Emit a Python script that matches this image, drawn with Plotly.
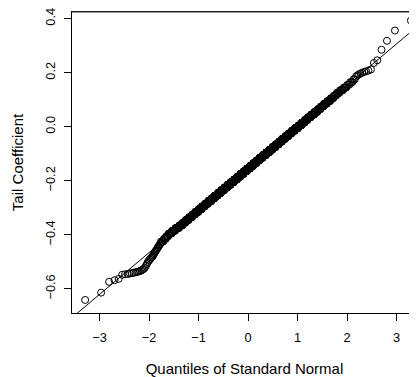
import numpy as np
import plotly.graph_objects as go
from statistics import NormalDist

# ---- data (sorted sample of 1000 tail coefficients) ----
# lowest ranks, read individually
lower_tail = [-0.641, -0.614, -0.574, -0.568, -0.563, -0.548, -0.546, -0.545, -0.543,
              -0.542, -0.540, -0.539, -0.537, -0.536, -0.534, -0.532, -0.529, -0.526,
              -0.522, -0.515, -0.508, -0.501, -0.496, -0.492, -0.488, -0.484, -0.481,
              -0.477, -0.472, -0.467, -0.462, -0.458, -0.454, -0.450, -0.446, -0.442,
              -0.439, -0.435, -0.432]
# dense body: value levels (0.01 wide bins, centre values) and how many points sit at each
body_levels = [-0.425, -0.415, -0.405, -0.395, -0.385, -0.375, -0.365, -0.355, -0.345,
               -0.335, -0.325, -0.315, -0.305, -0.295, -0.285, -0.275, -0.265, -0.255,
               -0.245, -0.235, -0.225, -0.215, -0.205, -0.195, -0.185, -0.175, -0.165,
               -0.155, -0.145, -0.135, -0.125, -0.115, -0.105, -0.095, -0.085, -0.075,
               -0.065, -0.055, -0.045, -0.035, -0.025, -0.015, -0.005, 0.005, 0.015,
               0.025, 0.035, 0.045, 0.055, 0.065, 0.075, 0.085, 0.095, 0.105, 0.115,
               0.125, 0.135, 0.145, 0.155, 0.165, 0.175]
body_counts = [5, 5, 5, 8, 9, 11, 11, 11, 12, 13, 14, 16, 16, 17, 18, 20, 20, 21, 22, 22,
               24, 24, 25, 25, 25, 26, 26, 26, 25, 26, 25, 25, 25, 24, 23, 23, 22, 20, 20,
               19, 18, 17, 17, 15, 14, 12, 12, 12, 10, 9, 8, 8, 7, 6, 5, 5, 5, 4, 3, 3, 2]
# highest ranks, read individually
upper_tail = [0.186, 0.190, 0.194, 0.197, 0.200, 0.203, 0.205, 0.208, 0.212, 0.236,
              0.246, 0.285, 0.318, 0.356, 0.393]

# reference line
line_intercept = -0.157
line_slope = 0.1545

x_ticks = [-3, -2, -1, 0, 1, 2, 3]
x_tick_labels = ["\u22123", "\u22122", "\u22121", "0", "1", "2", "3"]
y_ticks = [-0.6, -0.4, -0.2, 0.0, 0.2, 0.4]
y_tick_labels = ["\u22120.6", "\u22120.4", "\u22120.2", "0.0", "0.2", "0.4"]

# ---- build sample and theoretical quantiles (like qqnorm) ----
sample = np.sort(np.concatenate([lower_tail,
                                 np.repeat(body_levels, body_counts),
                                 upper_tail]))
n = len(sample)
nd = NormalDist()
theo = np.array([nd.inv_cdf((i - 0.5) / n) for i in range(1, n + 1)])

x_range = [-3.556, 3.414]
y_range = [-0.6893, 0.4246]
lx = np.array([-5.0, 5.0])
ly = line_intercept + line_slope * lx

fig = go.Figure()
fig.add_trace(go.Scatter(x=theo, y=sample, mode="markers",
                         marker=dict(symbol="circle-open", size=7, color="black",
                                     line=dict(width=1, color="black")),
                         hoverinfo="skip"))
fig.add_trace(go.Scatter(x=lx, y=ly, mode="lines",
                         line=dict(color="black", width=1), hoverinfo="skip"))
# top edge of the plot box
fig.add_shape(type="line", xref="paper", yref="paper", x0=0, x1=1, y0=1, y1=1,
              line=dict(color="#333333", width=1), layer="above")

font = dict(family="Liberation Sans", size=12.8, color="black")
fig.update_layout(
    width=409, height=369,
    margin=dict(l=64, r=0, t=2, b=64),
    paper_bgcolor="white", plot_bgcolor="white",
    showlegend=False, font=font,
    xaxis=dict(range=x_range, tickvals=x_ticks, ticktext=x_tick_labels,
               showgrid=False, zeroline=False, showline=True, linecolor="black",
               linewidth=1, mirror=True, ticks="outside", ticklen=7, tickcolor="black",
               tickwidth=1, ticklabelstandoff=6, ticklabeloverflow="allow",
               title=dict(text="Quantiles of Standard Normal", standoff=20),
               tickfont=font),
    yaxis=dict(range=y_range, tickvals=y_ticks, ticktext=y_tick_labels,
               showgrid=False, zeroline=False, showline=True, linecolor="black",
               linewidth=1, ticks="outside", ticklen=7, tickcolor="black",
               tickwidth=1, tickangle=-90, ticklabelstandoff=4, ticklabeloverflow="allow",
               title=dict(text="Tail Coefficient", standoff=15), tickfont=font),
)
fig.write_html("out.html")
